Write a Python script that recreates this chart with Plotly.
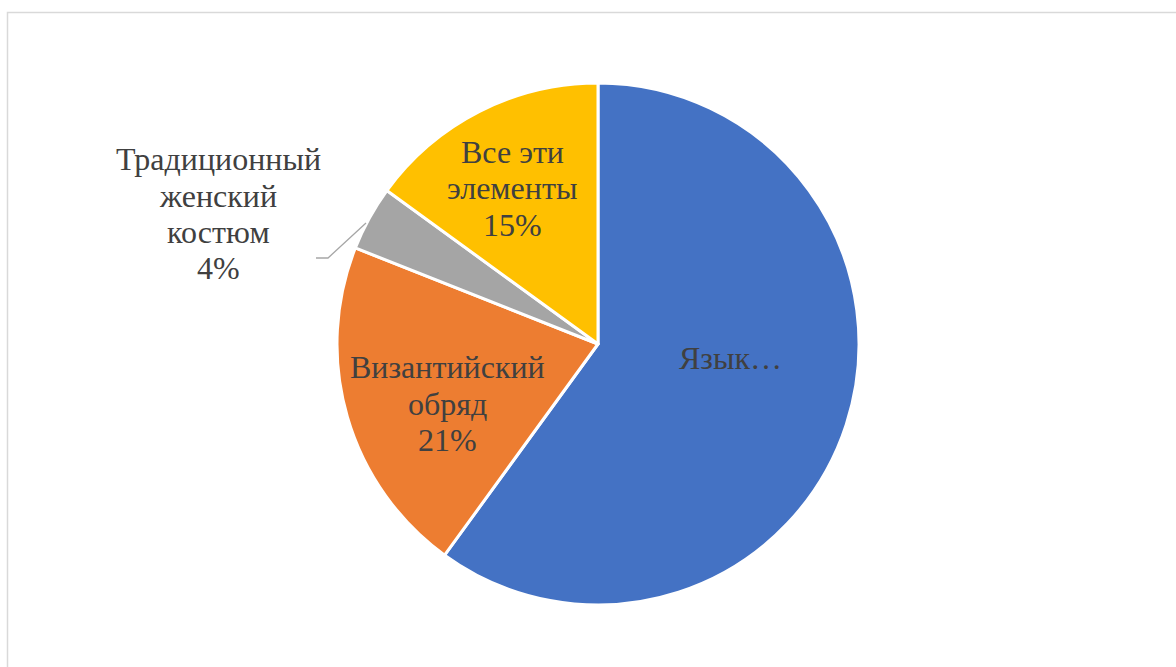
import plotly.graph_objects as go

# Survey shares: which element matters most
labels = ["Язык", "Византийский обряд", "Традиционный женский костюм", "Все эти элементы"]
values = [60, 21, 4, 15]
colors = ["#4472C4", "#ED7D31", "#A5A5A5", "#FFC000"]
# Text lines shown for each slice's category (the first one is truncated)
label_lines = [["Язык…"], ["Византийский", "обряд"], ["Традиционный", "женский", "костюм"], ["Все эти", "элементы"]]
show_percent = [False, True, True, True]

W, H = 1176, 667


def px(x):
    return x / W


def py(y):
    return 1 - y / H


fig = go.Figure(
    go.Pie(
        labels=labels,
        values=values,
        marker=dict(colors=colors, line=dict(color="white", width=3)),
        sort=False,
        direction="clockwise",
        rotation=0,
        textinfo="none",
        hoverinfo="label+percent",
        showlegend=False,
        domain=dict(x=[px(337), px(859)], y=[py(605), py(83)]),
    )
)

# Label anchor (x centre, y of first line) per slice
label_pos = [(730, 358), (447, 367), (218, 159), (512, 152)]
line_pitch = 36.5
font = dict(family="Liberation Serif", size=32, color="#404040")
total = sum(values)
annotations = []
for lines, val, pct, (cx, cy) in zip(label_lines, values, show_percent, label_pos):
    all_lines = list(lines) + ([f"{round(val / total * 100)}%"] if pct else [])
    for i, t in enumerate(all_lines):
        annotations.append(
            dict(
                x=px(cx), y=py(cy + i * line_pitch), xref="paper", yref="paper",
                text=t, showarrow=False, font=font, xanchor="center", yanchor="middle",
            )
        )

shapes = [
    # chart area frame
    dict(type="rect", xref="paper", yref="paper",
         x0=px(7.5), x1=px(W + 10), y0=py(H + 10), y1=py(12.5),
         line=dict(color="#D9D9D9", width=1.5), fillcolor="rgba(0,0,0,0)", layer="below"),
    # leader line for the small slice
    dict(type="path", xref="paper", yref="paper",
         path=f"M {px(316)},{py(258)} L {px(328)},{py(258)} L {px(366)},{py(223)}",
         line=dict(color="#A6A6A6", width=1.3)),
]

fig.update_layout(
    width=W, height=H,
    margin=dict(l=0, r=0, t=0, b=0),
    paper_bgcolor="white",
    plot_bgcolor="white",
    font=font,
    annotations=annotations,
    shapes=shapes,
)

fig.write_html("out.html")
